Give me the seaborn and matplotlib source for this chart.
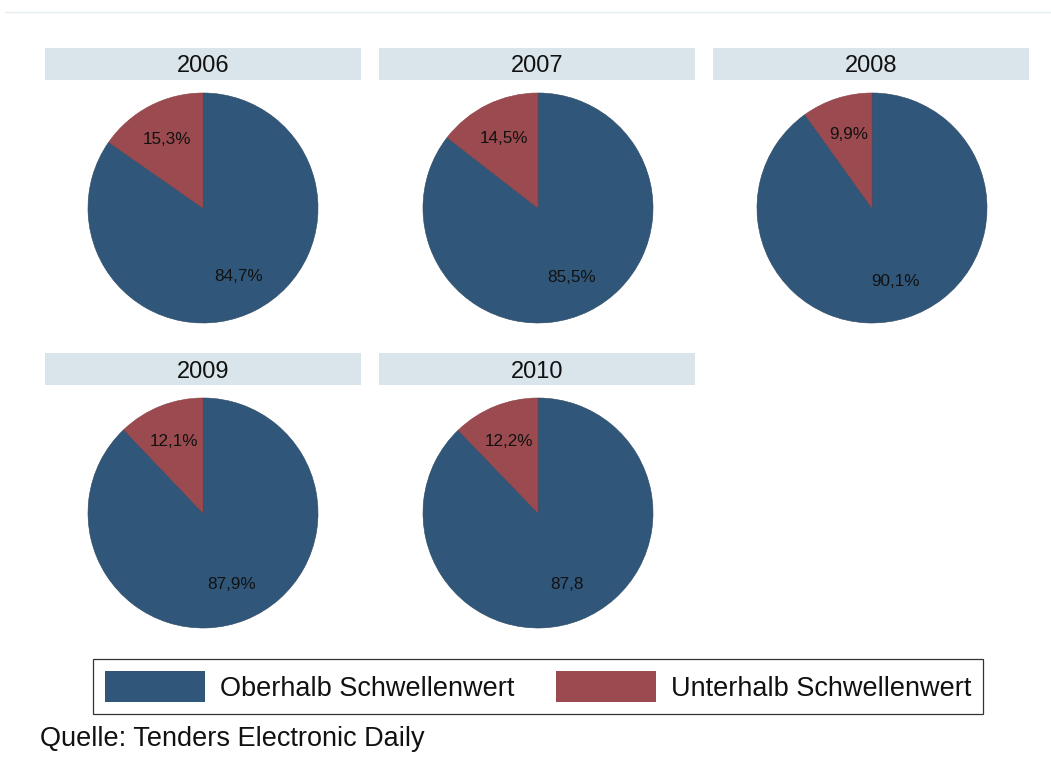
import matplotlib
matplotlib.use("Agg")
import matplotlib.pyplot as plt
from matplotlib.patches import Rectangle, Patch
from matplotlib.lines import Line2D
import seaborn as sns
import pandas as pd

# ---- data ----
years = ["2006", "2007", "2008", "2009", "2010"]
categories = ["Oberhalb Schwellenwert", "Unterhalb Schwellenwert"]
oberhalb = [84.7, 85.5, 90.1, 87.9, 87.8]
unterhalb = [15.3, 14.5, 9.9, 12.1, 12.2]
labels_ober = ["84,7%", "85,5%", "90,1%", "87,9%", "87,8"]
labels_unter = ["15,3%", "14,5%", "9,9%", "12,1%", "12,2%"]
source = "Quelle: Tenders Electronic Daily"

colors = ["#30577A", "#9B4A4F"]
strip_color = "#D9E5EB"

rows = []
for i, y in enumerate(years):
    rows.append({"year": y, "cat": categories[0], "share": oberhalb[i], "label": labels_ober[i]})
    rows.append({"year": y, "cat": categories[1], "share": unterhalb[i], "label": labels_unter[i]})
df = pd.DataFrame(rows)

sns.set_theme(style="white")
plt.rcParams["font.family"] = ["Liberation Sans", "DejaVu Sans"]

W, H = 1051, 774


def draw_pie(data, color=None, **kw):
    ax = plt.gca()
    wedges, texts = ax.pie(
        data["share"].values,
        labels=list(data["label"].values),
        colors=colors,
        startangle=90,
        counterclock=False,
        labeldistance=0.67,
        radius=1.0,
        wedgeprops={"linewidth": 0.4, "edgecolor": "#2a4560"},
        textprops={"fontsize": 12.3, "color": "#111111"},
    )
    wedges[1].set_edgecolor("#8a4045")
    for t in texts:
        t.set_ha("center")
        t.set_va("center")


g = sns.FacetGrid(df, col="year", col_wrap=3, height=2.3, aspect=1,
                  sharex=False, sharey=False, despine=False)
g.map_dataframe(draw_pie)
fig = g.figure
fig.set_size_inches(W / 100, H / 100)
fig.set_dpi(100)
fig.patch.set_facecolor("white")

centers_x = [203, 538, 872]
centers_y = [208, 513]
strip_x0 = [45, 379, 713]
strip_y0 = [48, 353]
R = 115

for i, ax in enumerate(g.axes.flat):
    r, c = divmod(i, 3)
    cx, cy = centers_x[c], centers_y[r]
    ax.set_title("")
    ax.set_position([(cx - R) / W, 1 - (cy + R) / H, 2 * R / W, 2 * R / H])
    ax.set_xlim(-1, 1)
    ax.set_ylim(-1, 1)
    ax.set_aspect("equal", adjustable="box")
    ax.axis("off")
    # strip
    sx, sy = strip_x0[c], strip_y0[r]
    fig.add_artist(Rectangle((sx / W, 1 - (sy + 32) / H), 316 / W, 32 / H,
                             transform=fig.transFigure, facecolor=strip_color,
                             edgecolor="none"))
    fig.text((sx + 158) / W, 1 - (sy + 24.5) / H, years[i], ha="center",
             va="baseline", fontsize=17, color="#111111")

# faint top line
fig.add_artist(Line2D([5 / W, 1], [1 - 12 / H, 1 - 12 / H], transform=fig.transFigure,
                      color="#E6EDF1", lw=1))

handles = [Patch(facecolor=colors[0], edgecolor="none"),
           Patch(facecolor=colors[1], edgecolor="none")]
leg = fig.legend(handles, categories, loc="center",
                 bbox_to_anchor=(538 / W, 1 - 686.5 / H), ncol=2,
                 fontsize=19.5, frameon=True, fancybox=False, shadow=False,
                 handlelength=3.7, handleheight=1.4, handletextpad=0.55,
                 columnspacing=1.55, borderpad=0.44, borderaxespad=0)
leg.get_frame().set_edgecolor("black")
leg.get_frame().set_linewidth(0.9)
for t in leg.get_texts():
    t.set_color("#111111")

fig.text(40 / W, 1 - 746 / H, source, ha="left", va="baseline",
         fontsize=19.5, color="#111111")

fig.savefig("out.png", dpi=100, facecolor="white")
